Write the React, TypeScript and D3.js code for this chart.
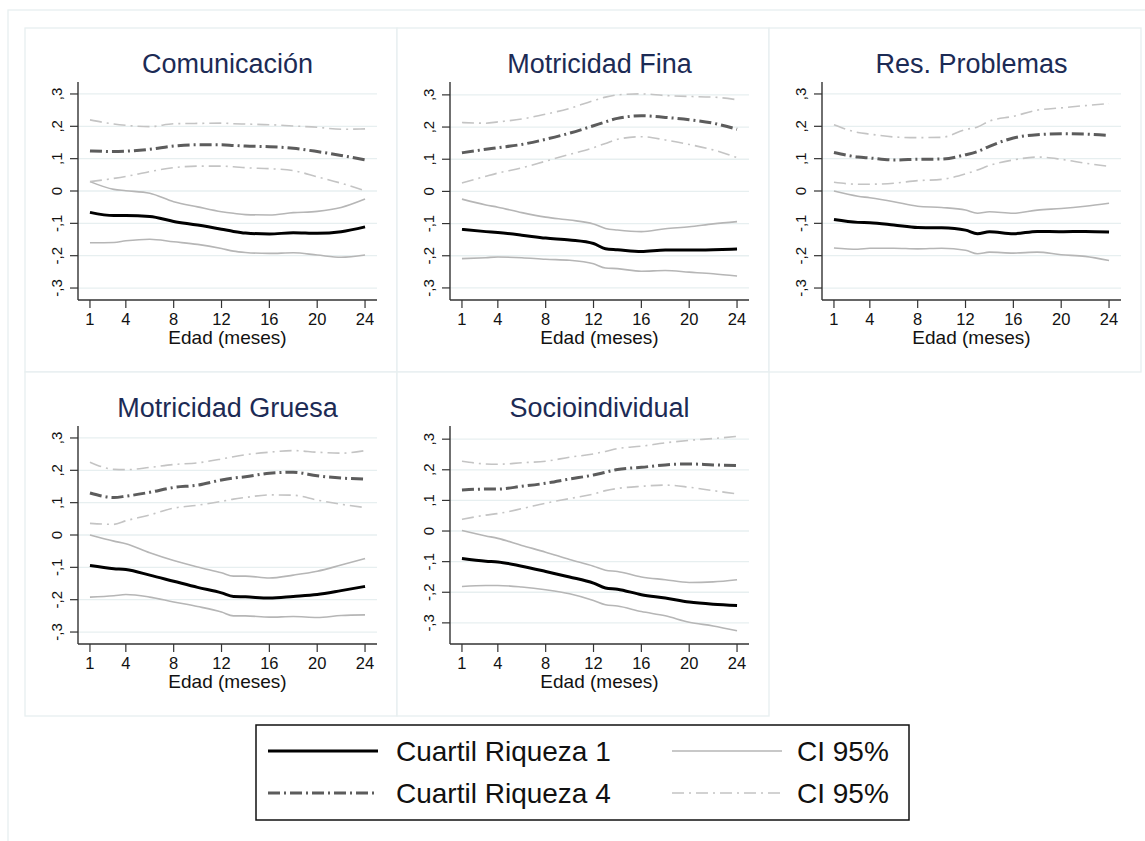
import React from 'react';
import * as d3 from 'd3';

// meses muestreados (eje x)
const months = [1, 3, 4, 6, 8, 10, 12, 13, 14, 16, 18, 20, 22, 24];
const xTicks = [1, 4, 8, 12, 16, 20, 24];
const yTicks = [-0.3, -0.2, -0.1, 0, 0.1, 0.2, 0.3];
const yTickLabels = ['-,3', '-,2', '-,1', '0', ',1', ',2', ',3'];

const titles = ['Comunicación', 'Motricidad Fina', 'Res. Problemas', 'Motricidad Gruesa', 'Socioindividual'];

// Comunicación
const comQ1 = [-0.066, -0.076, -0.076, -0.079, -0.094, -0.105, -0.118, -0.125, -0.13, -0.133, -0.129, -0.131, -0.126, -0.111];
const comQ1Hi = [0.029, 0.005, 0.001, -0.007, -0.033, -0.049, -0.064, -0.069, -0.073, -0.074, -0.067, -0.063, -0.051, -0.025];
const comQ1Lo = [-0.16, -0.159, -0.154, -0.149, -0.157, -0.165, -0.178, -0.186, -0.19, -0.193, -0.191, -0.198, -0.205, -0.198];
const comQ4 = [0.124, 0.122, 0.123, 0.129, 0.139, 0.143, 0.143, 0.141, 0.139, 0.137, 0.132, 0.122, 0.11, 0.096];
const comQ4Hi = [0.22, 0.207, 0.203, 0.199, 0.208, 0.209, 0.21, 0.208, 0.207, 0.205, 0.201, 0.197, 0.191, 0.192];
const comQ4Lo = [0.029, 0.039, 0.045, 0.06, 0.072, 0.077, 0.077, 0.075, 0.072, 0.069, 0.063, 0.044, 0.024, 0.001];

// Motricidad Fina
const finQ1 = [-0.118, -0.125, -0.128, -0.136, -0.145, -0.151, -0.162, -0.178, -0.181, -0.187, -0.182, -0.182, -0.181, -0.179];
const finQ1Hi = [-0.024, -0.042, -0.049, -0.066, -0.08, -0.089, -0.101, -0.115, -0.12, -0.125, -0.116, -0.11, -0.101, -0.094];
const finQ1Lo = [-0.209, -0.206, -0.204, -0.206, -0.211, -0.214, -0.225, -0.238, -0.24, -0.248, -0.246, -0.251, -0.256, -0.263];
const finQ4 = [0.12, 0.131, 0.136, 0.146, 0.162, 0.181, 0.204, 0.216, 0.227, 0.235, 0.23, 0.223, 0.212, 0.193];
const finQ4Hi = [0.214, 0.212, 0.216, 0.225, 0.24, 0.258, 0.282, 0.293, 0.3, 0.303, 0.298, 0.295, 0.293, 0.285];
const finQ4Lo = [0.026, 0.047, 0.057, 0.073, 0.094, 0.115, 0.136, 0.149, 0.162, 0.17, 0.16, 0.146, 0.129, 0.105];

// Res. Problemas
const resQ1 = [-0.088, -0.097, -0.098, -0.105, -0.113, -0.114, -0.121, -0.132, -0.126, -0.132, -0.125, -0.126, -0.125, -0.127];
const resQ1Hi = [0.0, -0.016, -0.021, -0.033, -0.047, -0.051, -0.059, -0.069, -0.064, -0.069, -0.059, -0.054, -0.047, -0.038];
const resQ1Lo = [-0.176, -0.18, -0.177, -0.177, -0.179, -0.177, -0.183, -0.194, -0.189, -0.192, -0.189, -0.197, -0.202, -0.215];
const resQ4 = [0.119, 0.105, 0.102, 0.096, 0.098, 0.099, 0.112, 0.122, 0.138, 0.164, 0.174, 0.177, 0.176, 0.172];
const resQ4Hi = [0.205, 0.181, 0.176, 0.167, 0.165, 0.166, 0.19, 0.198, 0.216, 0.231, 0.25, 0.257, 0.264, 0.27];
const resQ4Lo = [0.027, 0.021, 0.021, 0.024, 0.032, 0.036, 0.053, 0.065, 0.079, 0.096, 0.105, 0.098, 0.086, 0.076];

// Motricidad Gruesa
const gruQ1 = [-0.094, -0.104, -0.107, -0.124, -0.143, -0.162, -0.179, -0.19, -0.191, -0.195, -0.19, -0.184, -0.172, -0.159];
const gruQ1Hi = [0.0, -0.019, -0.027, -0.055, -0.079, -0.099, -0.117, -0.127, -0.127, -0.133, -0.124, -0.112, -0.093, -0.073];
const gruQ1Lo = [-0.192, -0.188, -0.184, -0.192, -0.207, -0.221, -0.238, -0.25, -0.25, -0.254, -0.252, -0.255, -0.249, -0.247];
const gruQ4 = [0.13, 0.116, 0.12, 0.132, 0.147, 0.154, 0.17, 0.176, 0.18, 0.191, 0.194, 0.183, 0.176, 0.173];
const gruQ4Hi = [0.225, 0.203, 0.202, 0.209, 0.218, 0.223, 0.235, 0.242, 0.248, 0.256, 0.261, 0.256, 0.253, 0.261];
const gruQ4Lo = [0.036, 0.033, 0.044, 0.062, 0.083, 0.092, 0.104, 0.111, 0.116, 0.124, 0.123, 0.108, 0.095, 0.085];

// Socioindividual
const socQ1 = [-0.09, -0.099, -0.101, -0.115, -0.132, -0.15, -0.17, -0.186, -0.19, -0.208, -0.219, -0.232, -0.239, -0.243];
const socQ1Hi = [0.002, -0.016, -0.024, -0.047, -0.069, -0.093, -0.115, -0.128, -0.132, -0.15, -0.159, -0.168, -0.166, -0.159];
const socQ1Lo = [-0.181, -0.178, -0.178, -0.183, -0.192, -0.205, -0.227, -0.241, -0.245, -0.263, -0.277, -0.298, -0.31, -0.326];
const socQ4 = [0.134, 0.137, 0.137, 0.146, 0.156, 0.17, 0.183, 0.192, 0.201, 0.208, 0.216, 0.219, 0.216, 0.214];
const socQ4Hi = [0.228, 0.219, 0.218, 0.223, 0.228, 0.241, 0.252, 0.26, 0.269, 0.277, 0.288, 0.296, 0.302, 0.309];
const socQ4Lo = [0.038, 0.052, 0.057, 0.073, 0.091, 0.106, 0.121, 0.132, 0.139, 0.146, 0.15, 0.143, 0.132, 0.121];

const yDomains = [
  [-0.337, 0.337],
  [-0.3375, 0.34],
  [-0.337, 0.337],
  [-0.337, 0.337],
  [-0.369, 0.343],
];

const panelSeries = [
  [comQ1Lo, comQ1Hi, comQ4Lo, comQ4Hi, comQ4, comQ1],
  [finQ1Lo, finQ1Hi, finQ4Lo, finQ4Hi, finQ4, finQ1],
  [resQ1Lo, resQ1Hi, resQ4Lo, resQ4Hi, resQ4, resQ1],
  [gruQ1Lo, gruQ1Hi, gruQ4Lo, gruQ4Hi, gruQ4, gruQ1],
  [socQ1Lo, socQ1Hi, socQ4Lo, socQ4Hi, socQ4, socQ1],
];

const FONT = '"Liberation Sans", Arial, Helvetica, sans-serif';
const GRID = '#e7eff0';

const styles = {
  q1: { stroke: '#000000', width: 3, dash: null },
  q4: { stroke: '#5c5c5c', width: 3, dash: '12 4 2 4' },
  ci1: { stroke: '#b6b6b6', width: 1.6, dash: null },
  ci4: { stroke: '#c4c4c4', width: 1.6, dash: '12 5 2 5' },
};
const seriesStyle = [styles.ci1, styles.ci1, styles.ci4, styles.ci4, styles.q4, styles.q1];

const boxW = 372;
const boxH = 344;
const boxX = [25, 397, 769];
const boxY = [28, 372];

function Panel({ idx }: { idx: number }) {
  const col = idx % 3;
  const row = Math.floor(idx / 3);
  const bx = boxX[col];
  const by = boxY[row];
  const left = 53;
  const right = 352;
  const top = 54;
  const bottom = 272;

  const x = d3.scaleLinear().domain([0, 25]).range([bx + left, bx + right]);
  const y = d3.scaleLinear().domain(yDomains[idx]).range([by + bottom, by + top]);
  const line = d3
    .line<number>()
    .x((_, i) => x(months[i]))
    .y((d) => y(d))
    .curve(d3.curveMonotoneX);

  return (
    <g>
      <rect x={bx} y={by} width={boxW} height={boxH} fill="white" stroke={GRID} strokeWidth={1.3} />
      {yTicks.map((t) => (
        <line key={'g' + t} x1={bx + left} x2={bx + right} y1={y(t)} y2={y(t)} stroke={GRID} strokeWidth={1.3} />
      ))}
      {panelSeries[idx].map((s, i) => (
        <path
          key={i}
          d={line(s) || ''}
          fill="none"
          stroke={seriesStyle[i].stroke}
          strokeWidth={seriesStyle[i].width}
          strokeDasharray={seriesStyle[i].dash || undefined}
          strokeLinejoin="round"
        />
      ))}
      <line x1={bx + left} x2={bx + left} y1={by + top} y2={by + bottom} stroke="#333" strokeWidth={1.4} />
      <line x1={bx + left} x2={bx + right} y1={by + bottom} y2={by + bottom} stroke="#333" strokeWidth={1.4} />
      {yTicks.map((t, i) => (
        <g key={'y' + t}>
          <line x1={bx + left - 8} x2={bx + left} y1={y(t)} y2={y(t)} stroke="#333" strokeWidth={1.2} />
          <text
            transform={`translate(${bx + 37},${y(t)}) rotate(-90)`}
            textAnchor="middle"
            fontSize={15}
            fontFamily={FONT}
            fill="#111"
          >
            {yTickLabels[i]}
          </text>
        </g>
      ))}
      {xTicks.map((t) => (
        <g key={'x' + t}>
          <line x1={x(t)} x2={x(t)} y1={by + bottom} y2={by + bottom + 8} stroke="#333" strokeWidth={1.2} />
          <text x={x(t)} y={by + 297} textAnchor="middle" fontSize={16.5} fontFamily={FONT} fill="#111">
            {t}
          </text>
        </g>
      ))}
      <text x={bx + (left + right) / 2} y={by + 316} textAnchor="middle" fontSize={19} fontFamily={FONT} fill="#111">
        Edad (meses)
      </text>
      <text x={bx + (left + right) / 2} y={by + 45} textAnchor="middle" fontSize={27} fontFamily={FONT} fill="#1c2b55">
        {titles[idx]}
      </text>
    </g>
  );
}

const legendItems = [
  { label: 'Cuartil Riqueza 1', style: styles.q1, lx: 268, tx: 396, ly: 751 },
  { label: 'Cuartil Riqueza 4', style: styles.q4, lx: 268, tx: 396, ly: 793 },
  { label: 'CI 95%', style: styles.ci1, lx: 672, tx: 797, ly: 751 },
  { label: 'CI 95%', style: styles.ci4, lx: 672, tx: 797, ly: 793 },
];

export default function App() {
  return (
    <svg width={1145} height={841} style={{ position: 'absolute', left: 0, top: 0, background: 'white' }}>
      <rect x={8} y={10} width={1160} height={860} fill="white" stroke={GRID} strokeWidth={1.3} />
      {titles.map((_, i) => (
        <Panel key={i} idx={i} />
      ))}
      <rect x={256} y={725} width={653} height={95} fill="white" stroke="#111" strokeWidth={1.5} />
      {legendItems.map((it, i) => (
        <g key={i}>
          <line
            x1={it.lx}
            x2={it.lx + 110}
            y1={it.ly}
            y2={it.ly}
            stroke={it.style.stroke}
            strokeWidth={it.style.width}
            strokeDasharray={it.style.dash || undefined}
          />
          <text x={it.tx} y={it.ly + 10} fontSize={28} fontFamily={FONT} fill="#111">
            {it.label}
          </text>
        </g>
      ))}
    </svg>
  );
}
